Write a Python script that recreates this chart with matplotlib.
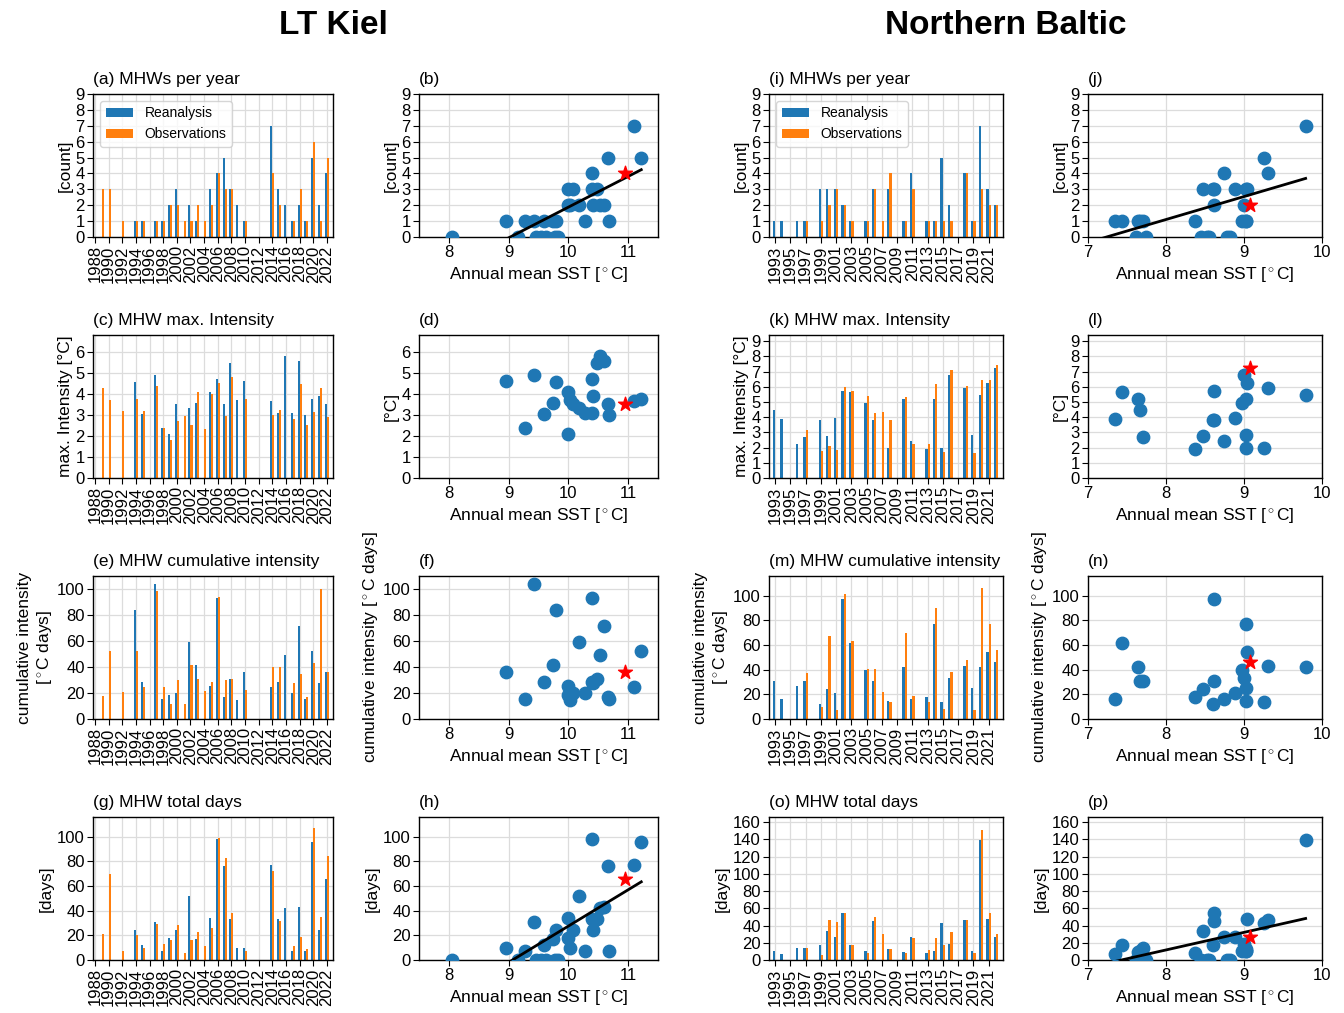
import numpy as np
import matplotlib
matplotlib.use("Agg")
import matplotlib.pyplot as plt

plt.rcParams['font.family'] = ['Liberation Sans', 'DejaVu Sans']
plt.rcParams['mathtext.fontset'] = 'custom'
plt.rcParams['mathtext.rm'] = 'Liberation Sans'
plt.rcParams['mathtext.it'] = 'Liberation Sans:italic'

nan = np.nan

# ---------------- LT Kiel ----------------
kiel_obs_years = list(range(1988, 2023))
kiel_rea_years = list(range(1993, 2023))

kiel_count_obs = [0, 3, 3, 0, 1, 0, 1, 1, 0, 1, 1, 2, 2, 1, 1, 2, 1, 2, 4, 3, 3, 0, 1,
                  0, 0, 0, 4, 2, 0, 1, 3, 1, 6, 1, 5]
kiel_count_rea = [0, 1, 1, 0, 1, 1, 2, 3, 0, 2, 1, 0, 3, 4, 5, 3, 2, 1,
                  0, 0, 0, 7, 3, 2, 1, 2, 1, 5, 2, 4]

kiel_maxi_obs = [nan, 4.3, 3.71, nan, 3.18, nan, 3.74, 3.18, nan, 4.36, 2.39, 1.8, 2.73, 2.97,
                 2.5, 4.08, 2.35, 3.98, 4.53, 2.97, 4.79, nan, 3.78, nan, nan, nan,
                 3.0, 3.22, nan, 2.8, 4.45, 2.53, 3.13, 4.27, 2.91]
kiel_maxi_rea = [nan, 4.55, 3.05, nan, 4.88, 2.4, 2.08, 3.5, nan, 3.33, 3.57, nan, 4.1, 4.7,
                 3.52, 5.45, 3.72, 4.6, nan, nan, nan, 3.68, 3.1, 5.8, 3.1, 5.57, 3.0,
                 3.76, 3.92, 3.5]

kiel_cum_obs = [nan, 17.7, 52.3, nan, 20.5, nan, 52.3, 24.4, nan, 98.7, 24.6, 11.3, 30.3, 11.3,
                41.3, 30.5, 21.3, 28.5, 93.6, 30.0, 30.8, nan, 22.6, nan, nan, nan,
                40.0, 40.3, nan, 28.0, 34.6, 17.2, 43.0, 100.0, 36.4]
kiel_cum_rea = [nan, 83.8, 28.5, nan, 103.8, 15.1, 18.7, 19.7, nan, 59.5, 41.3, nan, 25.4, 93.3,
                16.7, 30.8, 14.4, 35.9, nan, nan, nan, 24.4, 28.7, 49.2, 20.3, 71.3, 15.4,
                52.0, 27.4, 35.9]

kiel_days_obs = [0, 21, 70, 0, 7, 0, 20, 10, 0, 29, 13, 16, 28, 6, 16, 23, 11, 26, 99, 83, 38,
                 0, 7, 0, 0, 0, 72, 32, 0, 11, 19, 9, 107, 35, 84]
kiel_days_rea = [0, 24, 12, 0, 31, 7, 18, 24, 0, 52, 17, 0, 34, 98, 76, 33, 10, 10,
                 0, 0, 0, 77, 33, 42, 7, 43, 7, 96, 24, 66]

kiel_sst = [8.05, 9.8, 9.6, 9.15, 9.43, 9.27, 10.0, 10.08, 9.45, 10.17, 9.75, 9.55, 10.0,
            10.39, 10.67, 10.48, 10.02, 8.95, 9.62, 9.77, 9.82, 11.1, 10.4, 10.53, 10.27,
            10.59, 10.68, 11.22, 10.42, 10.95]

# ---------------- Northern Baltic ----------------
nb_years = list(range(1993, 2023))

nb_count_obs = [0, 0, 0, 0, 1, 0, 1, 2, 3, 2, 1, 0, 1, 3, 1, 4, 0, 1, 3, 0, 1, 1, 1, 1, 0,
                4, 1, 3, 2, 2]
nb_count_rea = [1, 1, 0, 1, 1, 0, 3, 3, 3, 2, 1, 0, 1, 3, 0, 3, 0, 1, 4, 0, 1, 1, 5, 2, 0,
                4, 1, 7, 3, 2]

nb_maxi_obs = [nan, nan, nan, nan, 3.15, nan, 1.8, 2.12, 1.85, 5.98, 5.7, nan, 5.4, 4.28, 4.32,
               3.82, nan, 5.32, 2.22, nan, 2.25, 6.2, 1.7, 7.1, nan, 6.04, 1.66, 6.42, 6.42, 7.4]
nb_maxi_rea = [4.48, 3.87, nan, 2.23, 2.7, nan, 3.82, 2.77, 3.93, 5.75, 5.63, nan, 4.96, 3.78,
               nan, 1.99, nan, 5.17, 2.45, nan, 1.9, 5.22, 1.94, 6.79, nan, 5.9, 2.84, 5.48,
               6.24, 7.25]

nb_cum_obs = [nan, nan, nan, nan, 37.5, nan, 10.0, 67.0, 7.5, 101.0, 63.0, nan, 40.5, 40.5,
              21.5, 13.5, nan, 70.0, 19.0, nan, 14.0, 90.0, 8.0, 38.5, nan, 47.5, 7.5, 106.0,
              77.0, 56.0]
nb_cum_rea = [31.0, 16.0, nan, 27.0, 30.5, nan, 12.5, 24.5, 21.0, 97.0, 62.0, nan, 40.0, 30.5,
              nan, 14.5, nan, 42.0, 16.0, nan, 18.0, 77.0, 14.0, 33.0, nan, 43.0, 25.0, 42.0,
              54.0, 46.0]

nb_days_obs = [0, 0, 0, 0, 14, 0, 6, 47, 44, 55, 17, 0, 8, 50, 30, 13, 0, 8, 26, 0, 12, 25,
               17, 32, 0, 47, 8, 151, 55, 30]
nb_days_rea = [10, 7, 0, 14, 14, 0, 17, 34, 27, 54, 17, 0, 10, 45, 0, 13, 0, 9, 27, 0, 8, 10,
               43, 19, 0, 47, 10, 139, 48, 27]

nb_sst = [7.67, 7.34, 7.62, 6.9, 7.71, 7.74, 8.6, 8.47, 8.88, 8.62, 7.43, 8.45, 8.97, 8.62,
          8.55, 9.02, 8.78, 7.64, 8.74, 8.82, 8.37, 9.02, 9.26, 9.0, 8.52, 9.31, 9.02, 9.79,
          9.04, 9.08]

BLUE = '#1f77b4'
ORANGE = '#ff7f0e'
GRID = '#dcdcdc'

W, H = 1344, 1013
fig = plt.figure(figsize=(W / 100, H / 100), dpi=100)

col_px = [(93, 333), (419, 658), (769, 1003), (1088, 1322)]
row_px = [(94, 237), (335, 478), (576, 719), (817, 960)]


def make_ax(r, c):
    x0, x1 = col_px[c]
    y0, y1 = row_px[r]
    return fig.add_axes([x0 / W, (H - y1) / H, (x1 - x0) / W, (y1 - y0) / H])


def style(ax):
    ax.grid(True, color=GRID, linewidth=0.9)
    ax.set_axisbelow(True)
    ax.tick_params(labelsize=12, length=4, pad=2)
    for s in ax.spines.values():
        s.set_linewidth(1.0)


def bar_panel(ax, years_obs, obs, years_rea, rea, ticks, xlim, ylim, yticks, title, ylabel,
              legend=False):
    style(ax)
    w = 0.3
    ax.bar(np.array(years_rea) - w / 2, np.nan_to_num(rea), width=w, color=BLUE,
           label='Reanalysis')
    ax.bar(np.array(years_obs) + w / 2, np.nan_to_num(obs), width=w, color=ORANGE,
           label='Observations')
    ax.set_xticks(ticks)
    ax.set_xticklabels([str(t) for t in ticks], rotation=90, fontsize=12)
    ax.set_xlim(*xlim)
    ax.set_ylim(*ylim)
    ax.set_yticks(yticks)
    ax.set_title(title, loc='left', fontsize=12.5, pad=7)
    ax.set_ylabel(ylabel, fontsize=12.5, labelpad=2)
    if legend:
        ax.legend(loc='upper left', fontsize=10, handlelength=2.0, borderaxespad=0.5)


def scatter_panel(ax, sst, vals, xlim, xticks, ylim, yticks, title, ylabel, fit=False):
    style(ax)
    sst = np.array(sst)
    vals = np.array(vals, dtype=float)
    xs, ys = sst[:-1], vals[:-1]
    ax.scatter(xs, ys, s=80, color=BLUE, zorder=3, clip_on=True)
    ax.scatter(sst[-1:], vals[-1:], s=110, marker='*', color='red', zorder=4)
    if fit:
        m = ~np.isnan(ys)
        k, b = np.polyfit(xs[m], ys[m], 1)
        xx = np.array([xs[m].min(), xs[m].max()])
        ax.plot(xx, k * xx + b, color='black', linewidth=2, zorder=3)
    ax.set_xlim(*xlim)
    ax.set_xticks(xticks)
    ax.set_ylim(*ylim)
    ax.set_yticks(yticks)
    ax.set_title(title, loc='left', fontsize=12.5, pad=7)
    ax.set_ylabel(ylabel, fontsize=12.5, labelpad=2)
    ax.set_xlabel('Annual mean SST [$^\\circ$C]', fontsize=12.5, labelpad=3)


kiel_ticks = list(range(1988, 2023, 2))
nb_ticks = list(range(1993, 2022, 2))
kx = (1987.7, 2022.9)
nx = (1992.2, 2022.9)

cum_lab2 = 'cumulative intensity\n[$^\\circ$C days]'
cum_lab1 = 'cumulative intensity [$^\\circ$C days]'

# Kiel columns
bar_panel(make_ax(0, 0), kiel_obs_years, kiel_count_obs, kiel_rea_years, kiel_count_rea,
          kiel_ticks, kx, (0, 9), range(0, 10), '(a) MHWs per year', '[count]', legend=True)
bar_panel(make_ax(1, 0), kiel_obs_years, kiel_maxi_obs, kiel_rea_years, kiel_maxi_rea,
          kiel_ticks, kx, (0, 6.8), range(0, 7), '(c) MHW max. Intensity', 'max. Intensity [°C]')
bar_panel(make_ax(2, 0), kiel_obs_years, kiel_cum_obs, kiel_rea_years, kiel_cum_rea,
          kiel_ticks, kx, (0, 110), range(0, 101, 20), '(e) MHW cumulative intensity', cum_lab2)
bar_panel(make_ax(3, 0), kiel_obs_years, kiel_days_obs, kiel_rea_years, kiel_days_rea,
          kiel_ticks, kx, (0, 116), range(0, 101, 20), '(g) MHW total days', '[days]')

kxl = (7.5, 11.5)
kxt = [8, 9, 10, 11]
scatter_panel(make_ax(0, 1), kiel_sst, kiel_count_rea, kxl, kxt, (0, 9), range(0, 10),
              '(b)', '[count]', fit=True)
scatter_panel(make_ax(1, 1), kiel_sst, kiel_maxi_rea, kxl, kxt, (0, 6.8), range(0, 7),
              '(d)', '[°C]')
scatter_panel(make_ax(2, 1), kiel_sst, kiel_cum_rea, kxl, kxt, (0, 110), range(0, 101, 20),
              '(f)', cum_lab1)
scatter_panel(make_ax(3, 1), kiel_sst, kiel_days_rea, kxl, kxt, (0, 116), range(0, 101, 20),
              '(h)', '[days]', fit=True)

# Northern Baltic columns
bar_panel(make_ax(0, 2), nb_years, nb_count_obs, nb_years, nb_count_rea,
          nb_ticks, nx, (0, 9), range(0, 10), '(i) MHWs per year', '[count]', legend=True)
bar_panel(make_ax(1, 2), nb_years, nb_maxi_obs, nb_years, nb_maxi_rea,
          nb_ticks, nx, (0, 9.4), range(0, 10), '(k) MHW max. Intensity', 'max. Intensity [°C]')
bar_panel(make_ax(2, 2), nb_years, nb_cum_obs, nb_years, nb_cum_rea,
          nb_ticks, nx, (0, 116), range(0, 101, 20), '(m) MHW cumulative intensity', cum_lab2)
bar_panel(make_ax(3, 2), nb_years, nb_days_obs, nb_years, nb_days_rea,
          nb_ticks, nx, (0, 166), range(0, 161, 20), '(o) MHW total days', '[days]')

nxl = (7, 10)
nxt = [7, 8, 9, 10]
scatter_panel(make_ax(0, 3), nb_sst, nb_count_rea, nxl, nxt, (0, 9), range(0, 10),
              '(j)', '[count]', fit=True)
scatter_panel(make_ax(1, 3), nb_sst, nb_maxi_rea, nxl, nxt, (0, 9.4), range(0, 10),
              '(l)', '[°C]')
scatter_panel(make_ax(2, 3), nb_sst, nb_cum_rea, nxl, nxt, (0, 116), range(0, 101, 20),
              '(n)', cum_lab1)
scatter_panel(make_ax(3, 3), nb_sst, nb_days_rea, nxl, nxt, (0, 166), range(0, 161, 20),
              '(p)', '[days]', fit=True)

fig.text(333 / W, 1 - 25 / H, 'LT Kiel', ha='center', va='center', fontsize=24,
         fontweight='bold')
fig.text(1006 / W, 1 - 25 / H, 'Northern Baltic', ha='center', va='center', fontsize=24,
         fontweight='bold')

fig.savefig('out.png', dpi=100)
